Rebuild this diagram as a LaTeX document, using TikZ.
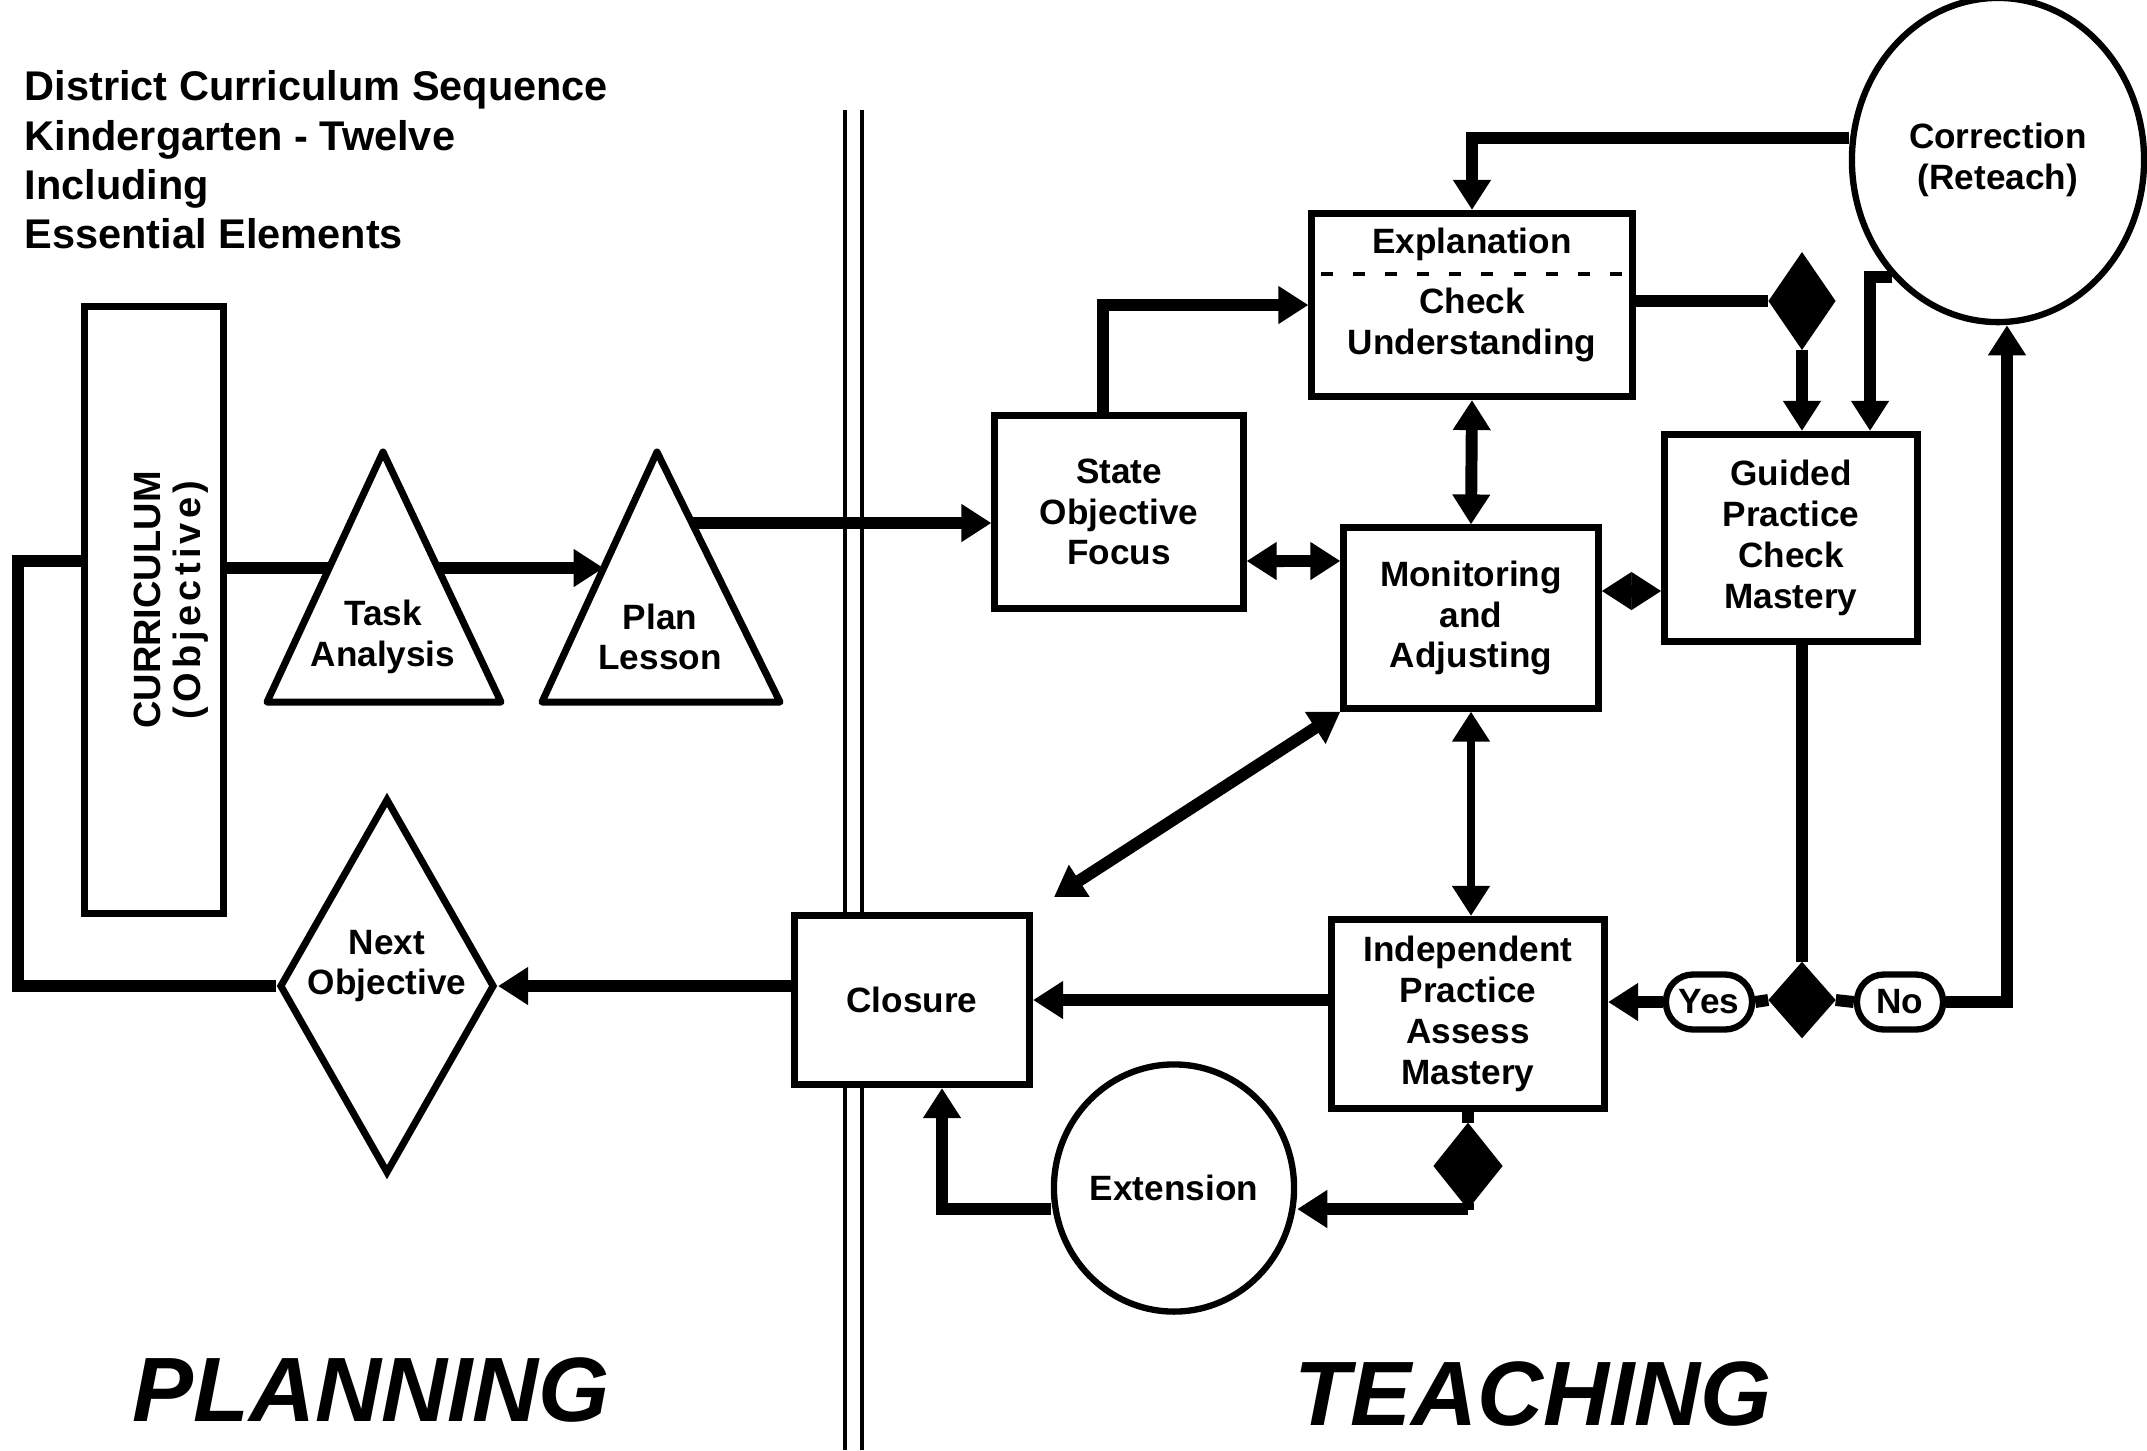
\documentclass[tikz,border=0pt]{standalone}
\usepackage{fontspec}
\setmainfont{Liberation Sans}
\usetikzlibrary{shapes.geometric, arrows.meta, positioning, calc}

\begin{document}
\begin{tikzpicture}[x=0.01cm, y=-0.01cm, >={Triangle[length=0.3cm,width=0.36cm]},
    font=\bfseries\fontsize{10}{11.6}\selectfont,
    box/.style={rectangle, draw, fill=white, line width=2pt, align=center, inner sep=0pt},
    oval/.style={ellipse, draw, fill=white, line width=1.8pt, align=center, inner sep=0pt},
    tag/.style={rectangle, rounded corners=0.27cm, draw, fill=white, line width=1.8pt,
      minimum width=0.86cm, minimum height=0.55cm, inner sep=0pt},
    blackdiam/.style={diamond, draw, fill=black, inner sep=0pt},
    tri/.style={draw, fill=white, line width=2pt, line join=round},
    lbl/.style={align=center, inner sep=0pt},
    link/.style={line width=3.4pt},
    thinlink/.style={line width=2.2pt}]

    \useasboundingbox (0,0) rectangle (2147,1450);

    % Divider
    \foreach \x in {845,862}
      \draw[line width=1.1pt] (\x,110) -- (\x,1450);

    % Planning side
    \node[lbl, align=left, anchor=north west, font=\bfseries\fontsize{11.8}{14}\selectfont] (title) at (24,70)
      {District Curriculum Sequence\\Kindergarten - Twelve\\Including\\Essential Elements};
    \node[box, minimum width=1.38cm, minimum height=6.07cm] (curr) at (154,610) {};
    \node[lbl, rotate=90, font=\bfseries\fontsize{10.8}{11.3}\selectfont] (currtxt) at (171,600)
      {CURRICULUM\\{\addfontfeature{LetterSpace=11}(Objective)}};

    \coordinate (taskTop) at (383,452);
    \coordinate (taskL) at (267,702);
    \coordinate (taskR) at (501,702);
    \coordinate (planTop) at (657,452);
    \coordinate (planL) at (542,702);
    \coordinate (planR) at (780,702);
    \coordinate (planIn) at ($(planL)!0.536!(planTop)$);
    \coordinate (planOut) at ($(planTop)!0.284!(planR)$);

    \draw[link, ->] (curr.east |- planIn) -- (planIn);
    \draw[tri] (taskTop) -- (taskR) -- (taskL) -- cycle;
    \node[lbl] (task) at (383,637) {Task\\Analysis};
    \draw[tri] (planTop) -- (planR) -- (planL) -- cycle;
    \node[lbl] (plan) at (660,637) {Plan\\Lesson};

    \node[diamond, draw, fill=white, line width=2pt, minimum width=2.15cm, minimum height=3.75cm,
      inner sep=0pt] (next) at (387,986) {};
    \node[lbl] (nexttxt) at ([yshift=0.2cm]next.center) {Next\\Objective};
    \node[box, minimum width=2.35cm, minimum height=1.69cm] (closure) at (912,1000) {Closure};

    % Teaching side
    \node[box, minimum width=2.48cm, minimum height=1.93cm] (state) at (1119,512) {State\\Objective\\Focus};
    \node[box, minimum width=3.20cm, minimum height=1.83cm] (expl) at (1472,305) {};
    \node[lbl] (explt) at (1472,244) {Explanation};
    \node[lbl] (checkt) at (1472,325) {Check\\Understanding};
    \draw[line width=1.4pt, dash pattern=on 0.12cm off 0.2cm] ($(expl.west)+(13,-31)$) -- ($(expl.east)+(-9,-31)$);
    \node[box, minimum width=2.54cm, minimum height=1.80cm] (mon) at (1471,618) {Monitoring\\and\\Adjusting};
    \node[box, minimum width=2.52cm, minimum height=2.07cm] (guided) at (1791,538) {Guided\\Practice\\Check\\Mastery};
    \node[oval, minimum width=2.92cm, minimum height=3.24cm] (corr) at (1998,160) {Correction\\(Reteach)};
    \node[box, minimum width=2.73cm, minimum height=1.89cm] (indep) at (1468,1014) {Independent\\Practice\\Assess\\Mastery};
    \node[oval, minimum width=2.40cm, minimum height=2.47cm] (ext) at (1174,1188) {Extension};
    \node[tag] (yes) at (1709,1002) {Yes};
    \node[tag] (no) at (1900,1002) {No};
    \node[blackdiam, minimum width=0.66cm, minimum height=0.75cm] (gdec) at (1802,1000) {};
    \node[blackdiam, minimum width=0.66cm, minimum height=0.96cm] (cdec) at (1802,301) {};
    \node[blackdiam, minimum width=0.68cm, minimum height=0.85cm] (idec) at (1468,1166) {};
    \coordinate (diagEnd) at (1054,897);

    % Connections
    \draw[link] (next.west) -- ++(-258,0) |- ([yshift=0.49cm]curr.west);
    \draw[link, ->] (closure.west |- next.east) -- (next.east);
    \draw[link, ->] (planOut) -- (planOut -| state.west);
    \draw[link, ->] ([xshift=-0.16cm]state.north) |- (expl.west);
    \draw[link] (expl.east |- cdec) -- (cdec.west);
    \draw[link, ->] (cdec.south) -- (cdec.south |- guided.north);
    \draw[link, ->] ([yshift=0.22cm]corr.west) -| (expl.north);
    \draw[link, ->] (corr.south west) -| ([xshift=0.79cm]guided.north);
    \draw[link, <->] (expl.south) -- (mon.north);
    \draw[link, <->] ([yshift=-0.49cm]state.east) -- ([yshift=0.57cm]mon.west);
    \draw[link, <->] ([yshift=0.27cm]mon.east) -- ([yshift=-0.53cm]guided.west);
    \draw[thinlink, <->] (mon.south) -- (mon.south |- indep.north);
    \draw[link, <->] (mon.south west) -- (diagEnd);
    \draw[link] (guided.south -| gdec.north) -- (gdec.north);
    \draw[link] (gdec.west) -- (yes.east);
    \draw[link, ->] (yes.west) -- (yes.west -| indep.east);
    \draw[link] (gdec.east) -- (no.west);
    \draw[link, ->] (no.east) -| ([xshift=0.09cm]corr.south);
    \draw[link, ->] (indep.west |- closure.east) -- (closure.east);
    \draw[link] (indep.south) -- (idec.north);
    \draw[link, ->] (idec.south) |- ([yshift=-0.21cm]ext.east);
    \draw[link, ->] ([yshift=-0.21cm]ext.west) -| ([xshift=0.3cm]closure.south);

    % Headings
    \node[font=\bfseries\itshape\fontsize{26}{30}\selectfont] (planning) at (371,1390) {PLANNING};
    \node[font=\bfseries\itshape\fontsize{26}{30}\selectfont] (teaching) at (1533,1394) {TEACHING};
\end{tikzpicture}
\end{document}
